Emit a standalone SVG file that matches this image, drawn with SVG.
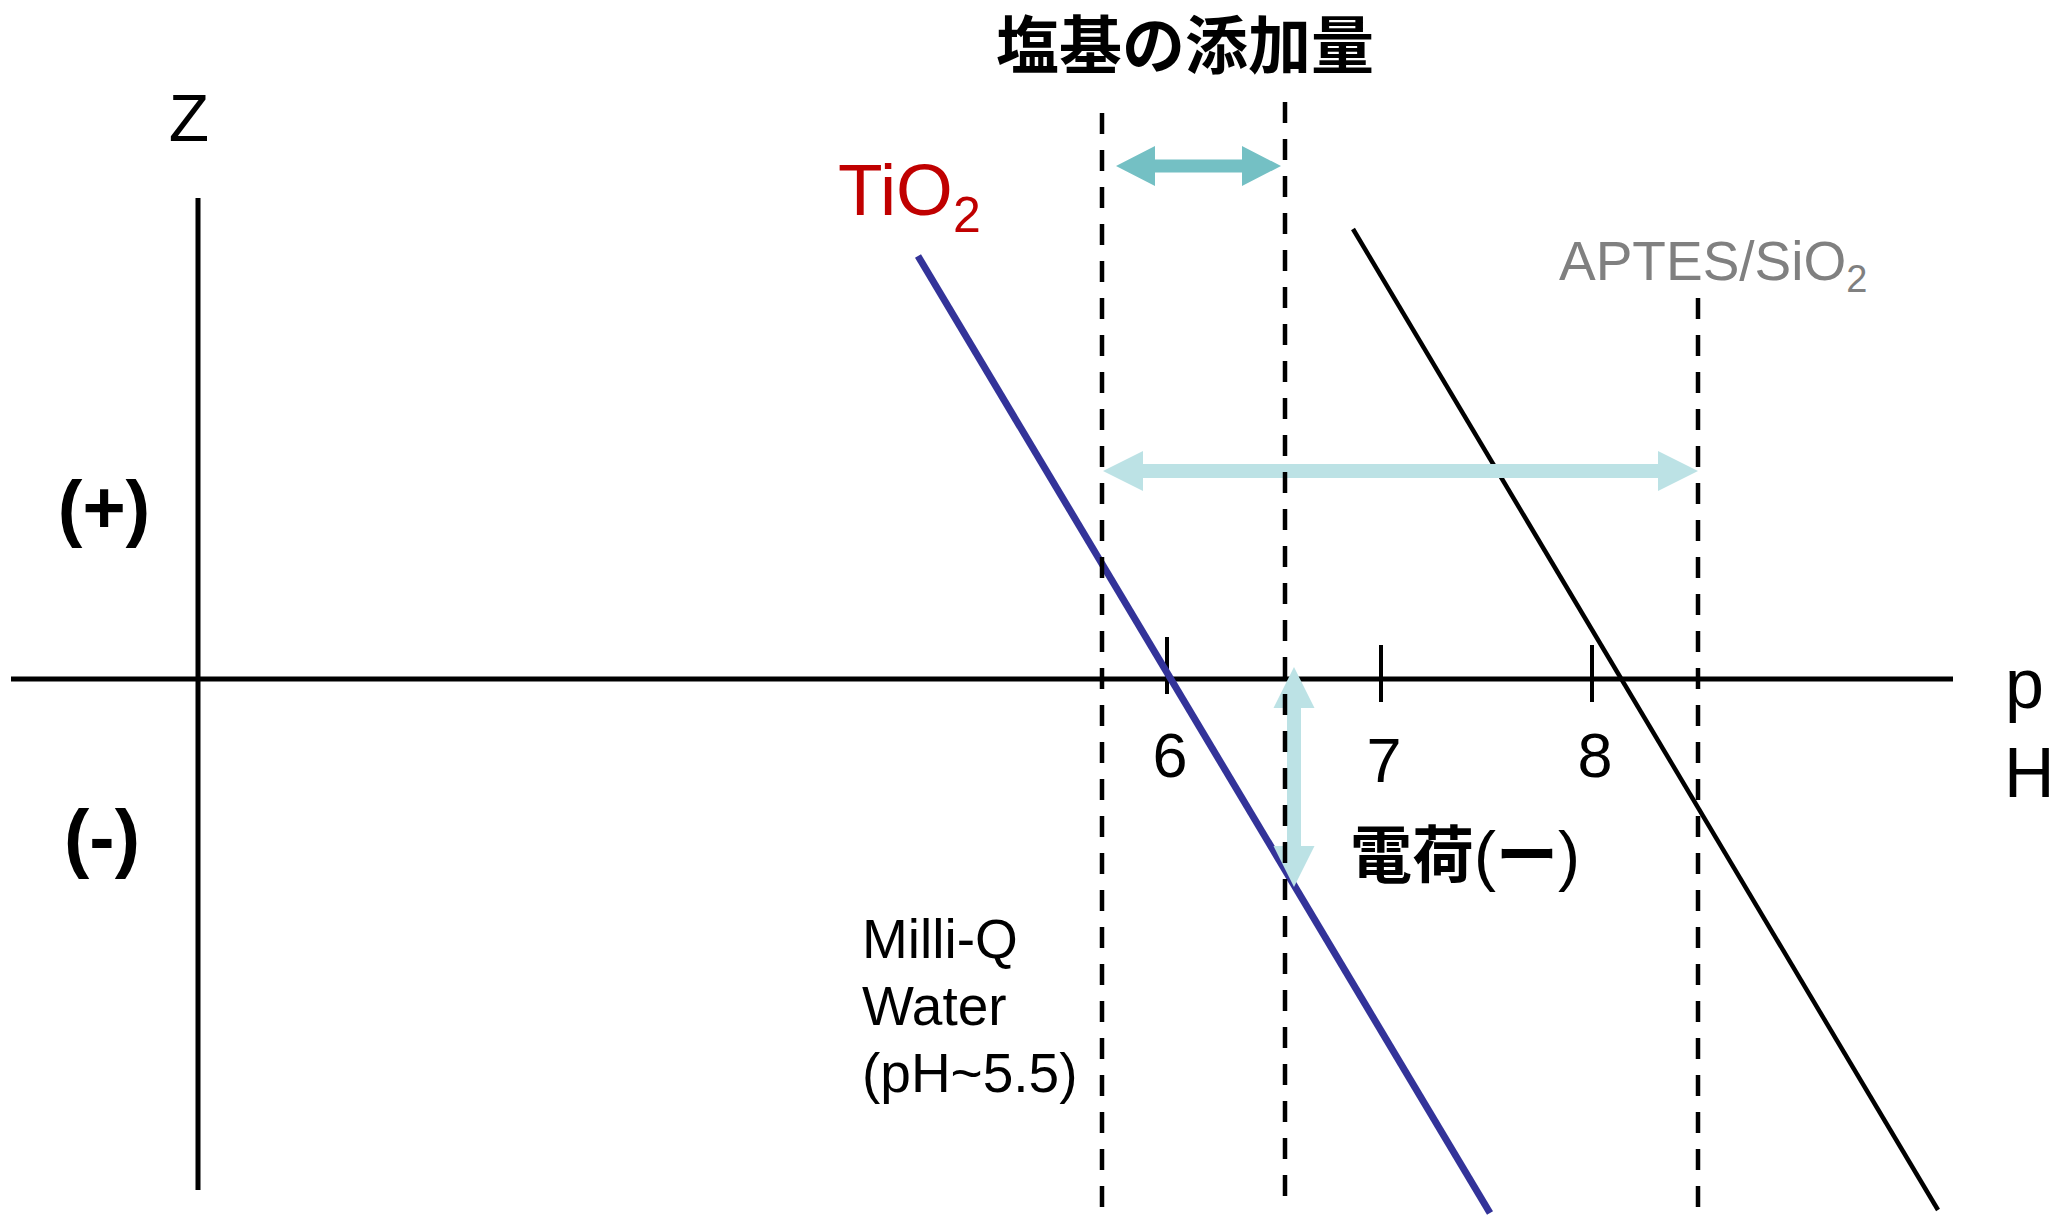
<svg xmlns="http://www.w3.org/2000/svg" width="2067" height="1219" viewBox="0 0 2067 1219">
<style>
  .lat { font-family: "Liberation Sans", Arial, sans-serif; }
  .cjk { font-family: "Noto Sans CJK JP", "Noto Sans CJK SC", sans-serif; font-weight: bold; }
  .axis { stroke: #000; stroke-width: 5; fill: none; }
  .tick { stroke: #000; stroke-width: 4; fill: none; }
  .dash { stroke: #000; stroke-width: 4.5; stroke-dasharray: 21 16; fill: none; }
  .arrLight { fill: #BCE2E5; }
  .arrTeal { fill: #74C0C4; }
</style>
<rect width="2067" height="1219" fill="#fff"/>

<g id="axes">
  <line class="axis" x1="198" y1="198" x2="198" y2="1190"/>
  <line class="axis" x1="11" y1="679" x2="1953" y2="679"/>
  <line class="tick" x1="1167" y1="637" x2="1167" y2="694"/>
  <line class="tick" x1="1381" y1="645" x2="1381" y2="702"/>
  <line class="tick" x1="1592" y1="645" x2="1592" y2="702"/>
</g>

<g id="curves">
  <line id="tio2-line" x1="918" y1="256" x2="1490" y2="1213" stroke="#333399" stroke-width="7"/>
  <line id="aptes-line" x1="1353" y1="229" x2="1938" y2="1210" stroke="#000" stroke-width="4.5"/>
</g>

<g id="connectors">
  <polygon id="arrow-top" class="arrTeal" points="1116,166 1155,146 1155,159.5 1242,159.5 1242,146 1281,166 1242,186 1242,172.5 1155,172.5 1155,186"/>
  <polygon id="arrow-mid" class="arrLight" points="1103,471 1143,451 1143,464 1658,464 1658,451 1698,471 1658,491 1658,478 1143,478 1143,491"/>
  <polygon id="arrow-vert" class="arrLight" points="1294,667 1314.5,708 1301,708 1301,846 1314.5,846 1294,887 1273.5,846 1287,846 1287,708 1273.5,708"/>
</g>

<g id="dashed">
  <line class="dash" x1="1102" y1="113" x2="1102" y2="1219"/>
  <line class="dash" x1="1285" y1="102" x2="1285" y2="1206"/>
  <line class="dash" x1="1698" y1="298" x2="1698" y2="1219"/>
</g>

<g id="title">
  <text class="cjk" x="1185" y="68" font-size="63" text-anchor="middle" fill="#000">塩基の添加量</text>
</g>

<g id="labels">
  <text class="lat" x="189" y="141" font-size="66" text-anchor="middle" fill="#000">Z</text>
  <text class="lat" x="104" y="533" font-size="74" font-weight="bold" text-anchor="middle" fill="#000">(+)</text>
  <text class="lat" x="102" y="863" font-size="76" font-weight="bold" text-anchor="middle" fill="#000">(-)</text>
  <text class="lat" x="1170" y="777" font-size="63" text-anchor="middle" fill="#000">6</text>
  <text class="lat" x="1384" y="782" font-size="63" text-anchor="middle" fill="#000">7</text>
  <text class="lat" x="1595" y="777" font-size="63" text-anchor="middle" fill="#000">8</text>
  <text class="lat" x="2005" y="708" font-size="70" fill="#000">p</text>
  <text class="lat" x="2004" y="797" font-size="70" fill="#000">H</text>
  <text class="lat" x="838" y="215" font-size="73" fill="#C00000">TiO<tspan font-size="50" dy="17">2</tspan></text>
  <text class="lat" x="1559" y="280" font-size="55" fill="#808080">APTES/SiO<tspan font-size="38" dy="12">2</tspan></text>
  <text class="cjk" x="1350" y="878" font-size="62" fill="#000">電荷<tspan class="lat" font-weight="normal" font-size="66">(</tspan>ー<tspan class="lat" font-weight="normal" font-size="66">)</tspan></text>
  <text class="lat" font-size="55" fill="#000"><tspan x="862" y="958">Milli-Q</tspan><tspan x="862" y="1025">Water</tspan><tspan x="862" y="1092">(pH~5.5)</tspan></text>
</g>
</svg>
